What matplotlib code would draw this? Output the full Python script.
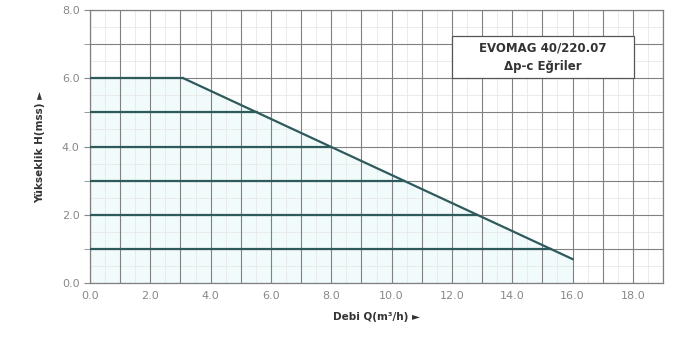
import numpy as np
import matplotlib.pyplot as plt
from matplotlib.patches import Rectangle

# Data
head_levels = [6.0, 5.0, 4.0, 3.0, 2.0, 1.0]
limit_q = [3.1, 16.0]       # endpoints of the max curve
limit_h = [6.0, 0.7]
x_ticks = [0, 2, 4, 6, 8, 10, 12, 14, 16, 18]
y_ticks = [0, 2, 4, 6, 8]

line_col = '#2f5a5c'

fig = plt.figure(figsize=(6.75, 3.54), dpi=100)
ax = fig.add_axes([0.1333, 0.2006, 0.849, 0.771])

slope = (limit_h[1] - limit_h[0]) / (limit_q[1] - limit_q[0])

def q_at(h):
    return limit_q[0] + (h - limit_h[0]) / slope

# faint fill under the envelope
env_q = [0, limit_q[0], limit_q[1]]
env_h = [limit_h[0], limit_h[0], limit_h[1]]
ax.fill_between(env_q, 0, env_h, color='#f1fbfb', zorder=0)

# light half-step lines
for v in np.arange(0.5, 19, 1):
    ax.axvline(v, color='#e8e8e8', lw=0.6, zorder=0.5)
for v in np.arange(0.5, 8, 1):
    ax.axhline(v, color='#e8e8e8', lw=0.6, zorder=0.5)

# horizontal constant-pressure curves
for h in head_levels:
    ax.plot([0, q_at(h)], [h, h], color=line_col, lw=1.6, zorder=3)

# max curve
ax.plot(limit_q, limit_h, color=line_col, lw=1.6, zorder=3)

ax.set_xlim(0, 19)
ax.set_ylim(0, 8)
ax.set_xticks(x_ticks)
ax.set_xticklabels(['%.1f' % v for v in x_ticks])
ax.set_yticks(y_ticks)
ax.set_yticklabels(['%.1f' % v for v in y_ticks])
ax.set_xticks(np.arange(0, 19.01, 1), minor=True)
ax.set_yticks(np.arange(0, 8.01, 1), minor=True)

ax.grid(which='both', color='#808080', lw=0.8, zorder=1)
ax.set_axisbelow(True)
ax.tick_params(which='both', colors='#888888', labelsize=8, length=4)
ax.tick_params(axis='x', which='both', length=0, pad=6)
for s in ax.spines.values():
    s.set_color('#808080')
    s.set_linewidth(0.9)

ax.set_xlabel('Debi Q(m³/h) ►', fontsize=7.5, fontweight='bold', color='#333333', labelpad=8)
ax.set_ylabel('Yükseklik H(mss) ►', fontsize=7.5, fontweight='bold', color='#333333', labelpad=12)

# title box
ax.add_patch(Rectangle((12.0, 6.0), 6.05, 1.25, fc='white', ec='#555555', lw=0.9, zorder=4))
ax.text(15.02, 6.62, 'EVOMAG 40/220.07\nΔp-c Eğriler', ha='center', va='center',
        fontsize=8.5, fontweight='bold', color='#333333', linespacing=1.5, zorder=5)

plt.savefig('out.png', dpi=100)
